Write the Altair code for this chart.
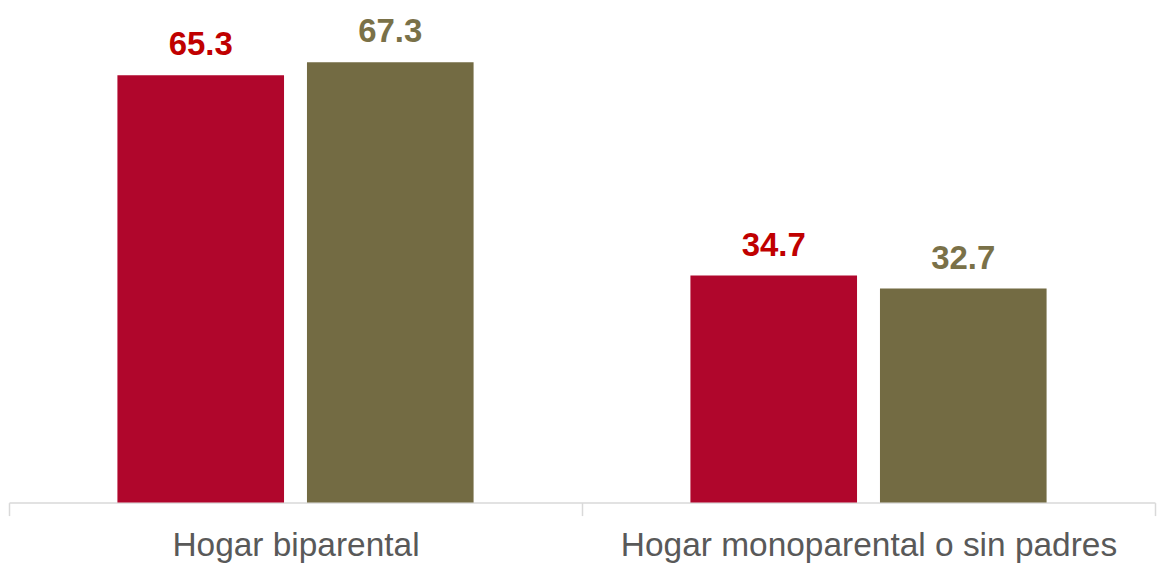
import altair as alt
import pandas as pd

categories = ["Hogar biparental", "Hogar monoparental o sin padres"]
series = ["A", "B"]
values_a = [65.3, 34.7]
values_b = [67.3, 32.7]

rows = []
for i, c in enumerate(categories):
    rows.append({"cat": c, "serie": "A", "valor": values_a[i]})
    rows.append({"cat": c, "serie": "B", "valor": values_b[i]})
df = pd.DataFrame(rows)

bar_colors = ["#B0062C", "#736B43"]
text_colors = ["#C00000", "#7A7148"]

x_enc = alt.X("cat:N", sort=categories, title=None,
              scale=alt.Scale(paddingInner=0, paddingOuter=0),
              axis=alt.Axis(labelAngle=0, labelFont="Liberation Sans", labelFontSize=33.5,
                            labelColor="#595959", labelPadding=14, labelLimit=0,
                            domainColor="#D9D9D9", domainWidth=1.5,
                            tickColor="#D9D9D9", tickWidth=1.5, tickSize=13,
                            tickBand="extent"))
xo = alt.XOffset("serie:N", sort=series,
                 scale=alt.Scale(paddingInner=0.121, paddingOuter=0.572))
y_enc = alt.Y("valor:Q", scale=alt.Scale(domain=[0, 75.5], nice=False, zero=True),
              axis=None)

bars = alt.Chart(df).mark_bar().encode(
    x=x_enc, xOffset=xo, y=y_enc,
    color=alt.Color("serie:N", scale=alt.Scale(domain=series, range=bar_colors), legend=None),
)

labels = alt.Chart(df).mark_text(
    baseline="bottom", dy=-13, font="Liberation Sans", fontSize=33, fontWeight="bold"
).encode(
    x=x_enc, xOffset=xo, y=y_enc,
    text=alt.Text("valor:Q", format=".1f"),
    color=alt.Color("serie:N", scale=alt.Scale(domain=series, range=text_colors), legend=None),
)

chart = alt.layer(bars, labels).resolve_scale(color="independent").properties(
    width=1148, height=495, background="white",
    padding={"left": 0, "right": 1, "top": 0, "bottom": 0},
).configure_view(strokeWidth=0, stroke=None)

chart.save("out.html", embed_options={"renderer": "svg", "actions": False})
